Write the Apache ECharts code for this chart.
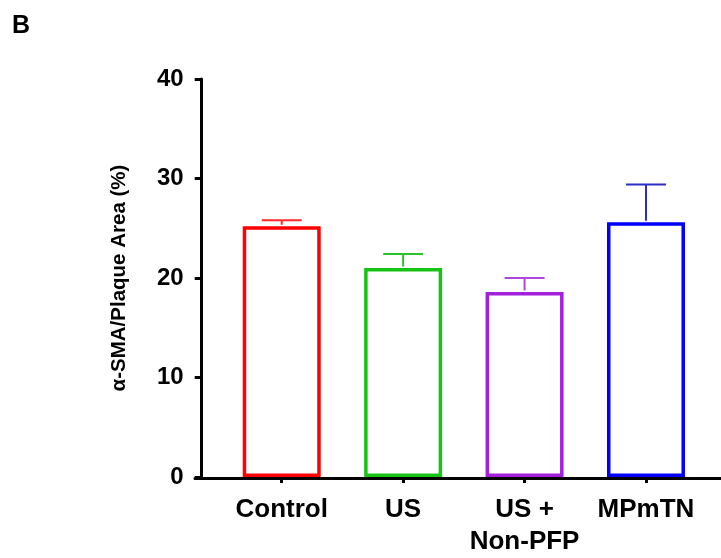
<!DOCTYPE html>
<html>
<head>
<meta charset="utf-8">
<script src="https://cdn.jsdelivr.net/npm/echarts@6/dist/echarts.min.js"></script>
<style>html,body{margin:0;padding:0;background:#fff;}#c{width:721px;height:558px;}</style>
</head>
<body>
<div id="c"></div>
<script>
var categories = ['Control', 'US', 'US +\nNon-PFP', 'MPmTN'];
var means = [25.2, 21.0, 18.6, 25.6];
var sems = [0.6, 1.4, 1.4, 3.8];
var yTicks = [0, 10, 20, 30, 40];
var barColors = ['#ff0000', '#16c416', '#a41fdc', '#0000ff'];
var errColors = ['#ff2a2a', '#2ac42a', '#b045e0', '#2c2cc8'];

var FONT = '"Liberation Sans", Arial, Helvetica, sans-serif';
var chart = echarts.init(document.getElementById('c'), null, {renderer: 'canvas'});

var barData = means.map(function (v, i) {
  return {
    value: v,
    itemStyle: {color: 'rgba(0,0,0,0)', borderColor: barColors[i], borderWidth: 3.5}
  };
});
var errData = means.map(function (v, i) { return [i, v, v + sems[i]]; });

var option = {
  animation: false,
  backgroundColor: '#ffffff',
  title: {
    text: 'B', left: 7, top: 9,
    textStyle: {fontFamily: FONT, fontWeight: 'bold', fontSize: 25, color: '#000'}
  },
  grid: [
    {left: 221, right: 14.3, top: 79, bottom: 80},
    {left: 195, right: 0, top: 79, bottom: 80}
  ],
  xAxis: [
    {
      type: 'category', gridIndex: 0, data: categories,
      axisLine: {show: false},
      axisTick: {show: true, alignWithLabel: true, length: 6, lineStyle: {color: '#000', width: 3}},
      axisLabel: {
        margin: 17, color: '#000', fontFamily: FONT, fontWeight: 'bold',
        fontSize: 26, lineHeight: 32, interval: 0
      },
      splitLine: {show: false}
    },
    {
      type: 'value', gridIndex: 1, min: 0, max: 1,
      axisLine: {show: true, lineStyle: {color: '#000', width: 3}},
      axisTick: {show: false}, axisLabel: {show: false}, splitLine: {show: false}
    }
  ],
  yAxis: [
    {
      type: 'value', gridIndex: 0, min: yTicks[0], max: yTicks[yTicks.length - 1], interval: 10,
      offset: 19.3,
      name: 'α-SMA/Plaque Area (%)', nameLocation: 'middle', nameGap: 72,
      nameTextStyle: {fontFamily: FONT, fontWeight: 'bold', fontSize: 20.5, color: '#000'},
      axisLine: {show: true, lineStyle: {color: '#000', width: 3}},
      axisTick: {show: true, length: 7, lineStyle: {color: '#000', width: 3}},
      axisLabel: {margin: 18, color: '#000', fontFamily: FONT, fontWeight: 'bold', fontSize: 24},
      splitLine: {show: false}
    },
    {
      type: 'value', gridIndex: 1, min: 0, max: 40, show: false
    }
  ],
  series: [
    {
      type: 'bar', xAxisIndex: 0, yAxisIndex: 0,
      barWidth: 78, data: barData, z: 2
    },
    {
      type: 'custom', xAxisIndex: 0, yAxisIndex: 0, z: 3,
      data: errData,
      renderItem: function (params, api) {
        var i = api.value(0);
        var lo = api.coord([i, api.value(1)]);
        var hi = api.coord([i, api.value(2)]);
        var half = 20;
        var col = errColors[params.dataIndex];
        var st = {stroke: col, lineWidth: 2};
        return {
          type: 'group',
          children: [
            {type: 'line', shape: {x1: lo[0], y1: lo[1] - 1.5, x2: hi[0], y2: hi[1]}, style: st},
            {type: 'line', shape: {x1: hi[0] - half, y1: hi[1], x2: hi[0] + half, y2: hi[1]}, style: st}
          ]
        };
      }
    }
  ]
};
chart.setOption(option);
</script>
</body>
</html>
